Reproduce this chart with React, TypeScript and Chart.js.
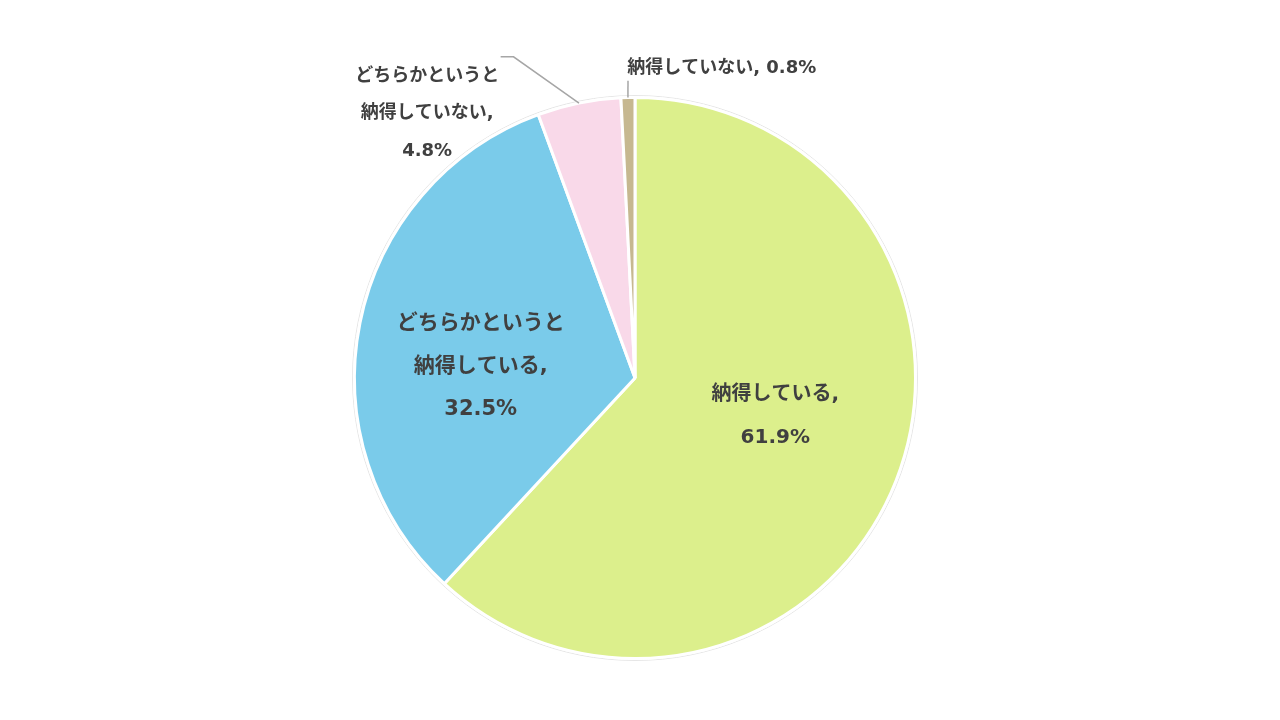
import { useEffect, useRef } from 'react'
import { Chart, ArcElement, PieController, Plugin } from 'chart.js'

Chart.register(ArcElement, PieController)

const LABELS = ['納得している', 'どちらかというと納得している', 'どちらかというと納得していない', '納得していない']
const VALUES = [61.9, 32.5, 4.8, 0.8]
const COLORS = ['#dcef8c', '#7acbea', '#f9d9e9', '#c6b890']

// label text lines per slice
const LABEL_LINES = [
  ['納得している,', '61.9%'],
  ['どちらかというと', '納得している,', '32.5%'],
  ['どちらかというと', '納得していない,', '4.8%'],
  ['納得していない, 0.8%'],
]

const FONT = '"DejaVu Sans", "Noto Sans CJK JP", sans-serif'

// label placement, relative to the pie center in units of the radius
const LABEL_POS = [
  { x: 0.50, y: 0.137, size: 20, gap: 43, leader: null },
  { x: -0.55, y: -0.04, size: 21, gap: 43, leader: null },
  { x: -0.741, y: -0.943, size: 18, gap: 37.5, leader: [-0.433, -1.145, -0.479, -1.145] },
  { x: 0.309, y: -1.103, size: 18, gap: 0, leader: [-0.025, -1.06, -0.025, -1.06] },
]

const labelPlugin: Plugin<'pie'> = {
  id: 'sliceLabels',
  afterDatasetsDraw(chart) {
    const ctx = chart.ctx
    const meta = chart.getDatasetMeta(0)
    meta.data.forEach((el: any, i) => {
      const { x: cx, y: cy, outerRadius: r, startAngle, endAngle } = el.getProps(['x', 'y', 'outerRadius', 'startAngle', 'endAngle'], true)
      const pos = LABEL_POS[i]
      const lines = LABEL_LINES[i]
      ctx.save()
      if (pos.leader) {
        const mid = (startAngle + endAngle) / 2
        const ex = cx + Math.cos(mid) * r
        const ey = cy + Math.sin(mid) * r
        ctx.strokeStyle = '#a6a6a6'
        ctx.lineWidth = 1.5
        ctx.beginPath()
        ctx.moveTo(ex, ey)
        ctx.lineTo(cx + pos.leader[0] * r, cy + pos.leader[1] * r)
        ctx.lineTo(cx + pos.leader[2] * r, cy + pos.leader[3] * r)
        ctx.stroke()
      }
      ctx.fillStyle = '#404040'
      ctx.font = `bold ${pos.size}px ${FONT}`
      ctx.textAlign = 'center'
      ctx.textBaseline = 'middle'
      const lx = cx + pos.x * r
      const ly = cy + pos.y * r
      const top = ly - ((lines.length - 1) * pos.gap) / 2
      lines.forEach((t, k) => ctx.fillText(t, lx, top + k * pos.gap))
      ctx.restore()
    })
  },
}

const outlinePlugin: Plugin<'pie'> = {
  id: 'pieOutline',
  beforeDatasetsDraw(chart) {
    const el: any = chart.getDatasetMeta(0).data[0]
    if (!el) return
    const ctx = chart.ctx
    ctx.save()
    ctx.strokeStyle = '#e6e6e6'
    ctx.lineWidth = 1
    ctx.beginPath()
    ctx.arc(el.x, el.y, el.outerRadius + 2, 0, Math.PI * 2)
    ctx.stroke()
    ctx.restore()
  },
}

export default function App() {
  const canvasRef = useRef<HTMLCanvasElement>(null)
  const chartRef = useRef<Chart<'pie'> | null>(null)

  useEffect(() => {
    document.body.style.margin = '0'
    if (!canvasRef.current) return
    if (chartRef.current) chartRef.current.destroy()

    chartRef.current = new Chart(canvasRef.current, {
      type: 'pie',
      data: {
        labels: LABELS,
        datasets: [{
          data: VALUES,
          backgroundColor: COLORS,
          borderColor: '#ffffff',
          borderWidth: 3,
        }],
      },
      options: {
        responsive: false,
        animation: false,
        layout: { padding: { top: 96, bottom: 60, left: 0, right: 10 } },
        plugins: { legend: { display: false }, tooltip: { enabled: false } },
      },
      plugins: [outlinePlugin, labelPlugin],
    })

    return () => { chartRef.current?.destroy() }
  }, [])

  return (
    <div style={{ width: 1280, height: 720, background: '#fff' }}>
      <canvas ref={canvasRef} width={1280} height={720} />
    </div>
  )
}
